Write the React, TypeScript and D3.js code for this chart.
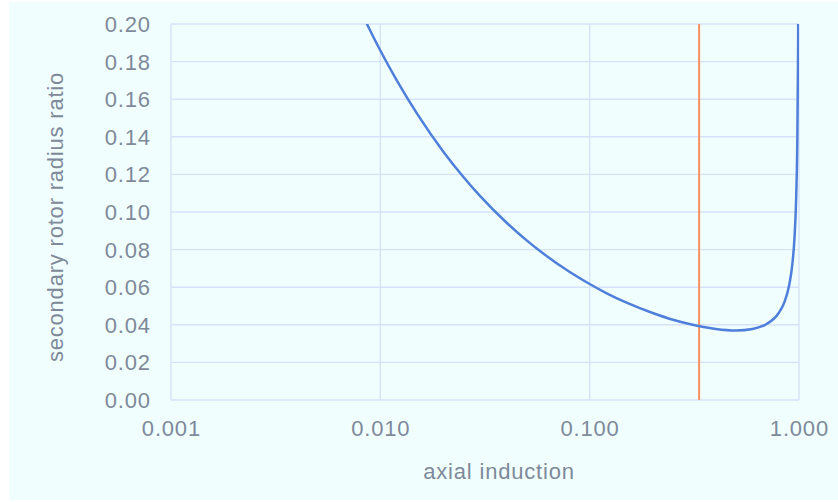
import React from "react";
import * as d3 from "d3";

const xTicks = [0.001, 0.01, 0.1, 1];
const xTickLabels = ["0.001", "0.010", "0.100", "1.000"];
const yTicks = [0, 0.02, 0.04, 0.06, 0.08, 0.1, 0.12, 0.14, 0.16, 0.18, 0.2];
const yTickLabels = ["0.00", "0.02", "0.04", "0.06", "0.08", "0.10", "0.12", "0.14", "0.16", "0.18", "0.20"];

const induction = [
  0.0085, 0.009, 0.01, 0.012, 0.015, 0.02, 0.025, 0.03, 0.04, 0.05, 0.06, 0.08,
  0.1, 0.12, 0.15, 0.2, 0.25, 0.3, 0.35, 0.4, 0.5, 0.6, 0.7, 0.8, 0.85, 0.9,
  0.93, 0.95, 0.97, 0.98, 0.99, 0.992,
];
const radiusRatio = [
  0.2015, 0.1959, 0.1859, 0.1699, 0.1522, 0.1321, 0.1185, 0.1084, 0.0944, 0.0849, 0.0779, 0.0682,
  0.0617, 0.0569, 0.0518, 0.0463, 0.0427, 0.0404, 0.0388, 0.0378, 0.037, 0.0378, 0.0404, 0.0463, 0.0518, 0.0617,
  0.0725, 0.0849, 0.1084, 0.1321, 0.1859, 0.2077,
];
const markerInduction = 1 / 3;

const W = 838;
const H = 502;
const plot = { left: 171, right: 799, top: 24, bottom: 400 };
const textColor = "#7E899A";
const gridColor = "#D5E2F8";
const font = "'Liberation Sans', Arial, sans-serif";
const fs = 22;
const ls = 0.8;

export default function App() {
  const x = d3.scaleLog().domain([0.001, 1]).range([plot.left, plot.right]);
  const y = d3.scaleLinear().domain([0, 0.2]).range([plot.bottom, plot.top]);
  const pts = induction.map((a, i) => [a, radiusRatio[i]] as [number, number]);
  const line = d3
    .line<[number, number]>()
    .x((d) => x(d[0]))
    .y((d) => y(d[1]))
    .curve(d3.curveMonotoneX);

  return (
    <svg
      width={W}
      height={H}
      style={{ position: "absolute", left: 0, top: 0, display: "block" }}
    >
      <rect x={9} y={2} width={W - 9} height={498} fill="#F0FFFE" />
      <defs>
        <clipPath id="plotclip">
          <rect x={plot.left} y={plot.top} width={plot.right - plot.left} height={plot.bottom - plot.top} />
        </clipPath>
      </defs>
      {yTicks.map((t) => (
        <line key={"gy" + t} x1={plot.left} x2={plot.right} y1={y(t)} y2={y(t)} stroke={gridColor} strokeWidth={1.4} />
      ))}
      {xTicks.map((t) => (
        <line key={"gx" + t} x1={x(t)} x2={x(t)} y1={plot.top} y2={plot.bottom} stroke={gridColor} strokeWidth={1.4} />
      ))}
      <g clipPath="url(#plotclip)">
        <line
          x1={x(markerInduction)}
          x2={x(markerInduction)}
          y1={plot.top}
          y2={plot.bottom}
          stroke="#F5905F"
          strokeWidth={2}
        />
        <path d={line(pts) || ""} fill="none" stroke="#4F7FDA" strokeWidth={2.5} />
      </g>
      {yTicks.map((t, i) => (
        <text
          key={"ty" + t}
          x={150 + ls}
          y={y(t)}
          dy="0.36em"
          textAnchor="end"
          fontFamily={font}
          fontSize={fs}
          letterSpacing={ls}
          fill={textColor}
        >
          {yTickLabels[i]}
        </text>
      ))}
      {xTicks.map((t, i) => (
        <text
          key={"tx" + t}
          x={x(t) + ls / 2}
          y={436}
          textAnchor="middle"
          fontFamily={font}
          fontSize={fs}
          letterSpacing={ls}
          fill={textColor}
        >
          {xTickLabels[i]}
        </text>
      ))}
      <text x={499} y={479} textAnchor="middle" fontFamily={font} fontSize={fs} letterSpacing={ls} fill={textColor}>
        axial induction
      </text>
      <text
        transform={`translate(63, 217) rotate(-90)`}
        textAnchor="middle"
        fontFamily={font}
        fontSize={fs}
        letterSpacing={ls}
        fill={textColor}
      >
        secondary rotor radius ratio
      </text>
    </svg>
  );
}
